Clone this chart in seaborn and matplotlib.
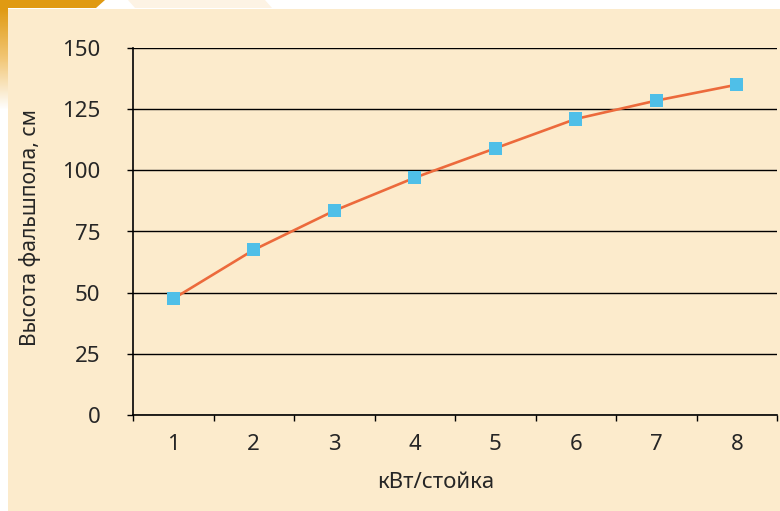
import numpy as np
import pandas as pd
import seaborn as sns
import matplotlib.pyplot as plt
from matplotlib.patches import Polygon, Rectangle
from matplotlib.colors import LinearSegmentedColormap

# Data
kw_per_rack = [1, 2, 3, 4, 5, 6, 7, 8]
floor_height = [47.5, 67.5, 83.5, 97, 109, 121, 128.5, 135]
y_ticks = [0, 25, 50, 75, 100, 125, 150]

BG = '#fcebcc'
LINE = '#ec6a3c'
MARK = '#4fbfe8'
FS = 16

sns.set_theme(style='white')
plt.rcParams['font.family'] = ['Noto Sans', 'DejaVu Sans']
plt.rcParams['axes.unicode_minus'] = False

df = pd.DataFrame({'x': kw_per_rack, 'y': floor_height})

fig = plt.figure(figsize=(7.8, 5.11), dpi=100)
fig.patch.set_facecolor('white')
W, H = 780, 511

# beige panel
fig.patches.append(Rectangle((8 / W, 0), 1 - 8 / W, 1 - 9 / H, transform=fig.transFigure,
                             facecolor=BG, edgecolor='none', zorder=-10))
# orange corner decoration
fig.patches.append(Polygon([(0, 1), (105 / W, 1), (96 / W, 1 - 8 / H), (0, 1 - 8 / H)],
                           closed=True, transform=fig.transFigure,
                           facecolor='#e09a12', edgecolor='none', zorder=-10))
fig.patches.append(Polygon([(128 / W, 1), (265 / W, 1), (272 / W, 1 - 8 / H), (135 / W, 1 - 8 / H)],
                           closed=True, transform=fig.transFigure,
                           facecolor='#fdf3e4', edgecolor='none', zorder=-10))
strip = fig.add_axes([0, 1 - 110 / H, 8 / W, 102 / H])
grad = np.linspace(0, 1, 100).reshape(-1, 1)
cmap = LinearSegmentedColormap.from_list('g', ['#e09a12', '#f2c777', '#ffffff'])
strip.imshow(grad, aspect='auto', cmap=cmap)
strip.axis('off')

ax = fig.add_axes([133 / W, 1 - 415 / H, (777 - 133) / W, (415 - 48) / H])
ax.set_facecolor(BG)

sns.lineplot(data=df, x='x', y='y', ax=ax, color=LINE, linewidth=1.9, zorder=3)
sns.scatterplot(data=df, x='x', y='y', ax=ax, color=MARK, marker='s', s=90,
                edgecolor='none', linewidth=0, zorder=4)

ax.set_xlim(0.5, 8.5)
ax.set_ylim(0, 150)
ax.set_yticks(y_ticks)
ax.set_xticks(kw_per_rack)
ax.set_xticks(np.arange(0.5, 9, 1), minor=True)
ax.grid(axis='y', color='black', linewidth=1.0, zorder=1)
ax.set_axisbelow(True)

for side in ['top', 'right']:
    ax.spines[side].set_visible(False)
for side in ['left', 'bottom']:
    ax.spines[side].set_color('black')
    ax.spines[side].set_linewidth(1.2)

ax.tick_params(axis='y', which='major', direction='out', length=4.5, width=1,
               color='black', pad=19, labelsize=FS, left=True)
ax.tick_params(axis='x', which='major', length=0, pad=14, labelsize=FS)
ax.tick_params(axis='x', which='minor', direction='out', length=4.5, width=1,
               color='black', bottom=True)

ax.set_xlabel('кВт/стойка', fontsize=FS, va='center')
ax.xaxis.set_label_coords(0.47, -0.183)
ax.set_ylabel('Высота фальшпола, см', fontsize=15.2, va='center')
ax.yaxis.set_label_coords(-0.160, 0.51)

plt.savefig('out.png', dpi=100, facecolor=fig.get_facecolor())
plt.close()
